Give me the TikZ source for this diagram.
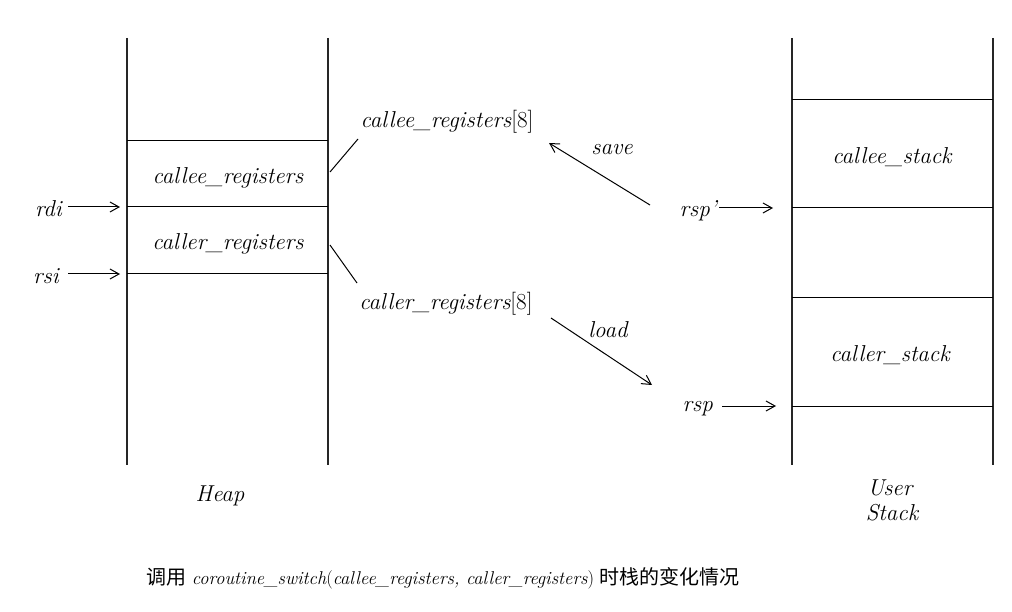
\documentclass[tikz,border=0pt]{standalone}
\usepackage{fontspec}
\newfontfamily\cjk{Noto Sans CJK SC}
\usetikzlibrary{arrows.meta}
\begin{document}
\begin{tikzpicture}[x=1pt,y=-1pt,
  wall/.style={line width=1.2pt,draw=black!85},
  thin/.style={line width=1pt},
  ptr/.style={line width=1pt,-{Straight Barb[length=9pt,width=10pt,line width=1pt]}},
  lbl/.style={font=\fontsize{23}{27}\selectfont\itshape,inner sep=0pt},
  captext/.style={font=\fontsize{18.5}{23}\selectfont,inner sep=0pt},
  cjktext/.style={}]
\useasboundingbox (0,0) rectangle (1012,612);
% Heap
\coordinate (h1t) at (127,38); \coordinate (h1b) at (127,465);
\coordinate (h2t) at (328,38); \coordinate (h2b) at (328,465);
\draw[wall] (h1t) -- (h1b);
\draw[wall] (h2t) -- (h2b);
\coordinate (ha1) at (127,141); \coordinate (hb1) at (328,141);
\coordinate (ha2) at (127,207); \coordinate (hb2) at (328,207);
\coordinate (ha3) at (127,274); \coordinate (hb3) at (328,274);
\draw[thin] (ha1) -- (hb1);
\draw[thin] (ha2) -- (hb2);
\draw[thin] (ha3) -- (hb3);
\node[lbl] (cer) at (228,178) {callee\_registers};
\node[lbl] (crr) at (228,244) {caller\_registers};
\node[lbl,anchor=east] (rdi) at (62,209) {rdi};
\node[lbl,anchor=east] (rsi) at (59,276) {rsi};
\coordinate (rdiend) at (120,207);
\coordinate (rsiend) at (120,274);
\draw[ptr] (68,207) -- (rdiend);
\draw[ptr] (68,274) -- (rsiend);
\node[lbl] (heap) at (220,496) {Heap};
% arrays
\node[lbl] (cea) at (447,122) {callee\_registers\upshape[8]};
\node[lbl] (cra) at (446,304) {caller\_registers\upshape[8]};
\coordinate (d1a) at (330,172); \coordinate (d1b) at (358,139);
\coordinate (d2a) at (330,245); \coordinate (d2b) at (357,283);
\draw[thin] (d1a) -- (d1b);
\draw[thin] (d2a) -- (d2b);
\coordinate (sv1) at (650,205); \coordinate (sv2) at (549,143);
\draw[ptr] (sv1) -- (sv2);
\node[lbl] (save) at (612,150) {save};
\coordinate (ld1) at (551,318); \coordinate (ld2) at (652,385);
\draw[ptr] (ld1) -- (ld2);
\node[lbl] (load) at (608,330) {load};
% User stack
\coordinate (s1t) at (792,38); \coordinate (s1b) at (792,465);
\coordinate (s2t) at (993,38); \coordinate (s2b) at (993,465);
\draw[wall] (s1t) -- (s1b);
\draw[wall] (s2t) -- (s2b);
\foreach \yy in {100,208,298,406} {\draw[thin] (792,\yy) -- (993,\yy);}
\node[lbl] (ces) at (892,157) {callee\_stack};
\node[lbl] (crs) at (890,355) {caller\_stack};
\node[lbl,anchor=east] (rspp) at (717,211) {rsp'};
\node[lbl,anchor=east] (rsp) at (713,409) {rsp};
\coordinate (rsppend) at (773,208);
\coordinate (rspend) at (776,406);
\draw[ptr] (719,208) -- (rsppend);
\draw[ptr] (722,406) -- (rspend);
\node[lbl,align=center] (us) at (890,500) {User\\[-2pt]\hspace*{4pt}Stack};
% caption
\node[captext] (caption) at (443,578) {{\cjk\fontsize{20}{24}\selectfont 调用} \itshape coroutine\_switch\upshape(\itshape callee\_registers, caller\_registers\upshape) {\cjk\fontsize{20}{24}\selectfont 时栈的变化情况}};
\end{tikzpicture}
\end{document}
